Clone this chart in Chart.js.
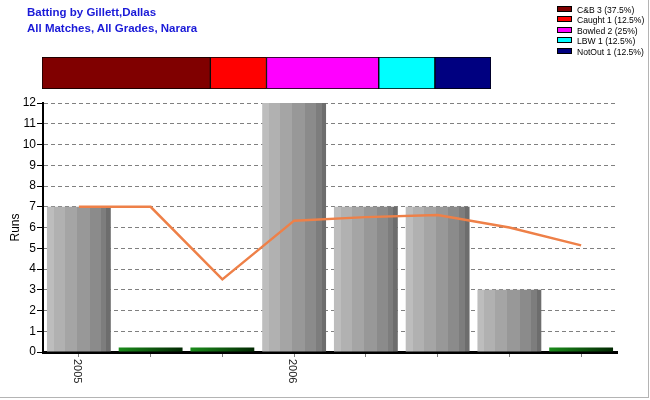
<!DOCTYPE html>
<html>
<head>
<meta charset="utf-8">
<script src="https://cdn.jsdelivr.net/npm/chart.js@4"></script>
<style>
body { margin: 0; background: #fff; }
#wrap { position: relative; width: 650px; height: 400px; overflow: hidden; font-family: "Liberation Sans", Arial, sans-serif; }
#frame { position: absolute; left: 0; top: 0; width: 648px; height: 397px; border-right: 1px solid #b4b4b4; border-bottom: 1px solid #b4b4b4; }
#title { position: absolute; left: 27px; top: 4px; font-weight: bold; font-size: 11.5px; line-height: 16px; color: #1a1ad8; }
#legend { position: absolute; left: 557px; top: 5px; font-size: 8.6px; color: #000; }
#legend div { height: 10.4px; line-height: 10.4px; white-space: nowrap; }
#legend span { display: inline-block; width: 13px; height: 4px; border: 1px solid #000; margin-right: 5px; vertical-align: 1px; }
#mainChart, #dismissChart { position: absolute; left: 0; top: 0; }
</style>
</head>
<body>
<div id="wrap">
	<canvas id="mainChart" width="650" height="400"></canvas>
	<canvas id="dismissChart" width="520" height="100"></canvas>
	<div id="title">Batting by Gillett,Dallas<br>All Matches, All Grades, Narara</div>
	<div id="legend"></div>
	<div id="frame"></div>
</div>
<script>
//chart data
var seasonLabels = ['2005', '', '', '2006', '', '', '', ''];
var runs = [7, 0, 0, 12, 7, 7, 3, 0];
var average = [7, 7, 3.5, 6.33, 6.5, 6.6, 6, 5.14];
var dismissTypes = ['C&B', 'Caught', 'Bowled', 'LBW', 'NotOut'];
var dismissCounts = [3, 1, 2, 1, 1];
var dismissColors = ['#800000', '#ff0000', '#ff00ff', '#00ffff', '#000080'];
var duckHeight = 0.22; // a score of 0 is shown as a thin green bar

var barPct = 0.89;
var greyStripes = ['#bdbdbd', '#b1b1b1', '#a5a5a5', '#989898', '#8b8b8b', '#7d7d7d', '#6d6d6d'];
var stripeStops = [0, 0.11, 0.28, 0.47, 0.67, 0.84, 0.93, 1];

Chart.defaults.font.family = '"Liberation Sans", Arial, sans-serif';
Chart.defaults.color = '#000';

//bar colour: grey stripes, green for a duck
function barFill(context) {
	var chart = context.chart;
	var xs = chart.scales.x;
	var i = context.dataIndex;
	if (!xs || !chart.chartArea || i === undefined) return '#999';
	var w = xs.width / runs.length * barPct;
	var cx = xs.getPixelForValue(i);
	if (!isFinite(w) || !isFinite(cx)) return '#999';
	var g = chart.ctx.createLinearGradient(cx - w / 2, 0, cx + w / 2, 0);
	if (runs[i] === 0) {
		g.addColorStop(0, '#1a8c1a');
		g.addColorStop(1, '#022802');
		return g;
	}
	for (var k = 0; k < greyStripes.length; k++) {
		g.addColorStop(stripeStops[k], greyStripes[k]);
		g.addColorStop(Math.max(stripeStops[k], stripeStops[k + 1] - 0.001), greyStripes[k]);
	}
	return g;
}

//x labels read top to bottom
var verticalLabels = {
	id: 'verticalLabels',
	afterDraw: function(chart) {
		var xs = chart.scales.x;
		var ctx = chart.ctx;
		ctx.save();
		ctx.font = '11px "Liberation Sans", Arial, sans-serif';
		ctx.fillStyle = '#222';
		ctx.textAlign = 'left';
		ctx.textBaseline = 'middle';
		seasonLabels.forEach(function(label, i) {
			if (!label) return;
			ctx.save();
			ctx.translate(xs.getPixelForValue(i) - 2, xs.top + 7);
			ctx.rotate(Math.PI / 2);
			ctx.fillText(label, 0, 0);
			ctx.restore();
		});
		ctx.restore();
	}
};

var mainChart = new Chart(document.getElementById('mainChart'), {
	type: 'bar',
	data: {
		labels: seasonLabels.map(function(l, i) { return l || ' '.repeat(i); }),
		datasets: [{
			type: 'line',
			label: 'Average',
			data: average,
			borderColor: '#ee8048',
			borderWidth: 2.5,
			pointRadius: 0,
			tension: 0,
			order: 0
		}, {
			label: 'Runs',
			data: runs.map(function(r) { return r === 0 ? duckHeight : r; }),
			backgroundColor: barFill,
			barPercentage: barPct,
			categoryPercentage: 1,
			order: 1
		}]
	},
	options: {
		responsive: false,
		animation: false,
		layout: { padding: { top: 103, right: 33 } },
		plugins: { legend: { display: false }, tooltip: { enabled: false } },
		scales: {
			x: {
				offset: true,
				grid: { offset: false, drawOnChartArea: false, tickLength: 5, tickColor: '#808080' },
				border: { color: '#000', width: 3 },
				ticks: { display: false },
				afterFit: function(scale) { scale.height = 48; }
			},
			y: {
				min: 0,
				max: 12,
				ticks: { stepSize: 1, font: { size: 12 }, padding: 1 },
				grid: { color: '#808080', tickColor: '#000', tickLength: 6, tickBorderDash: [] },
				border: { color: '#000', width: 2, dash: [4, 3] },
				title: { display: true, text: 'Runs', font: { size: 12 }, padding: { top: 8, bottom: 0 } },
				afterFit: function(scale) { scale.width = 43; }
			}
		}
	},
	plugins: [verticalLabels]
});

//dismissal breakdown
var total = dismissCounts.reduce(function(a, b) { return a + b; }, 0);
var dismissChart = new Chart(document.getElementById('dismissChart'), {
	type: 'bar',
	data: {
		labels: ['Dismissals'],
		datasets: dismissTypes.map(function(t, i) {
			return {
				label: t + ' ' + dismissCounts[i] + ' (' + (dismissCounts[i] / total * 100) + '%)',
				data: [dismissCounts[i]],
				backgroundColor: dismissColors[i],
				borderColor: '#000',
				borderWidth: 1,
				borderSkipped: false,
				barPercentage: 1,
				categoryPercentage: 1
			};
		})
	},
	options: {
		indexAxis: 'y',
		responsive: false,
		animation: false,
		layout: { padding: { left: 42, right: 29, top: 57, bottom: 11 } },
		plugins: { legend: { display: false }, tooltip: { enabled: false } },
		scales: {
			x: { stacked: true, min: 0, max: total, display: false },
			y: { stacked: true, display: false }
		}
	}
});

//legend
var legend = document.getElementById('legend');
dismissChart.data.datasets.forEach(function(ds) {
	var row = document.createElement('div');
	var box = document.createElement('span');
	box.style.background = ds.backgroundColor;
	row.appendChild(box);
	row.appendChild(document.createTextNode(ds.label));
	legend.appendChild(row);
});
</script>
</body>
</html>
